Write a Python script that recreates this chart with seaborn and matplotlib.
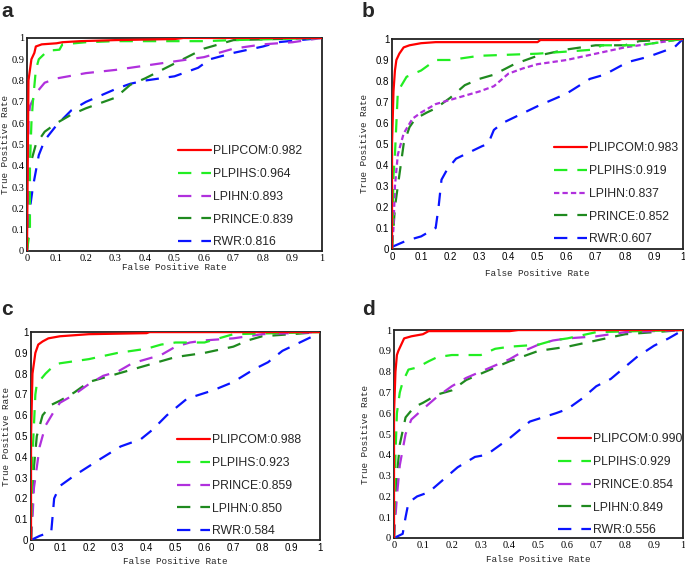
import matplotlib
matplotlib.use("Agg")
import matplotlib.pyplot as plt
import seaborn as sns

# ---- data (FPR / TPR pairs) ----
# panel a
A_PLIPCOM_X = [0, 0.005, 0.01, 0.015, 0.025, 0.03, 0.05, 0.1, 0.12, 0.18, 0.3, 0.5, 0.53, 1]
A_PLIPCOM_Y = [0, 0.8, 0.85, 0.9, 0.93, 0.96, 0.97, 0.975, 0.98, 0.985, 0.99, 0.995, 1, 1]
A_PLPIHS_X = [0, 0.01, 0.01, 0.015, 0.02, 0.03, 0.04, 0.07, 0.11, 0.12, 0.2, 0.3, 0.6, 0.7, 1]
A_PLPIHS_Y = [0, 0.1, 0.4, 0.6, 0.7, 0.85, 0.9, 0.94, 0.945, 0.97, 0.98, 0.985, 0.985, 0.99, 1]
A_LPIHN_X = [0, 0.005, 0.005, 0.01, 0.03, 0.06, 0.1, 0.2, 0.3, 0.4, 0.5, 0.6, 0.65, 0.7, 0.8, 0.9, 1]
A_LPIHN_Y = [0, 0.3, 0.6, 0.68, 0.74, 0.79, 0.81, 0.835, 0.85, 0.87, 0.89, 0.91, 0.93, 0.95, 0.97, 0.98, 1]
A_PRINCE_X = [0, 0.005, 0.01, 0.03, 0.06, 0.1, 0.15, 0.2, 0.3, 0.35, 0.4, 0.5, 0.6, 0.7, 1]
A_PRINCE_Y = [0, 0.2, 0.4, 0.5, 0.56, 0.6, 0.64, 0.67, 0.72, 0.78, 0.81, 0.88, 0.95, 0.99, 1]
A_RWR_X = [0, 0.01, 0.02, 0.04, 0.06, 0.1, 0.15, 0.2, 0.25, 0.3, 0.35, 0.4, 0.5, 0.58, 0.62, 0.7, 0.8, 0.85, 1]
A_RWR_Y = [0, 0.2, 0.3, 0.45, 0.52, 0.59, 0.66, 0.7, 0.73, 0.76, 0.785, 0.8, 0.82, 0.86, 0.9, 0.93, 0.96, 0.98, 1]

# panel b
B_PLIPCOM_X = [0, 0, 0.005, 0.01, 0.015, 0.025, 0.04, 0.06, 0.1, 0.15, 0.5, 0.51, 0.78, 0.79, 1]
B_PLIPCOM_Y = [0, 0.5, 0.75, 0.85, 0.9, 0.93, 0.96, 0.97, 0.98, 0.985, 0.985, 0.995, 0.995, 1, 1]
B_PLPIHS_X = [0, 0.005, 0.01, 0.015, 0.02, 0.05, 0.1, 0.15, 0.2, 0.3, 0.5, 0.6, 0.7, 0.72, 0.85, 0.9, 1]
B_PLPIHS_Y = [0, 0.35, 0.45, 0.6, 0.75, 0.82, 0.85, 0.9, 0.9, 0.92, 0.93, 0.94, 0.95, 0.97, 0.97, 0.98, 1]
B_LPIHN_X = [0, 0.005, 0.01, 0.02, 0.04, 0.07, 0.1, 0.15, 0.2, 0.3, 0.35, 0.4, 0.45, 0.5, 0.6, 0.7, 0.8, 0.9, 1]
B_LPIHN_Y = [0, 0.1, 0.3, 0.45, 0.55, 0.62, 0.65, 0.69, 0.71, 0.75, 0.775, 0.835, 0.86, 0.88, 0.9, 0.93, 0.96, 0.98, 1]
B_PRINCE_X = [0, 0.01, 0.02, 0.04, 0.06, 0.08, 0.12, 0.15, 0.2, 0.25, 0.3, 0.35, 0.42, 0.5, 0.6, 0.7, 0.8, 0.85, 1]
B_PRINCE_Y = [0, 0.2, 0.3, 0.5, 0.58, 0.62, 0.65, 0.67, 0.72, 0.78, 0.81, 0.83, 0.88, 0.92, 0.95, 0.97, 0.97, 0.99, 1]
B_RWR_X = [0, 0.05, 0.1, 0.15, 0.16, 0.17, 0.19, 0.22, 0.31, 0.33, 0.35, 0.38, 0.5, 0.6, 0.68, 0.73, 0.81, 0.88, 0.97, 1]
B_RWR_Y = [0.01, 0.04, 0.06, 0.1, 0.2, 0.33, 0.38, 0.43, 0.49, 0.5, 0.567, 0.6, 0.68, 0.74, 0.81, 0.83, 0.89, 0.915, 0.96, 1]

# panel c
C_PLIPCOM_X = [0, 0, 0.005, 0.01, 0.015, 0.025, 0.04, 0.06, 0.1, 0.2, 0.4, 0.41, 1]
C_PLIPCOM_Y = [0, 0.5, 0.8, 0.85, 0.9, 0.94, 0.955, 0.97, 0.98, 0.99, 0.995, 1, 1]
C_PLPIHS_X = [0, 0.005, 0.01, 0.015, 0.02, 0.05, 0.08, 0.1, 0.2, 0.3, 0.4, 0.45, 0.5, 0.6, 0.65, 0.7, 1]
C_PLPIHS_Y = [0, 0.4, 0.55, 0.7, 0.75, 0.8, 0.84, 0.85, 0.87, 0.9, 0.92, 0.94, 0.95, 0.95, 0.97, 0.99, 1]
C_PRINCE_X = [0, 0.005, 0.01, 0.03, 0.05, 0.08, 0.1, 0.15, 0.2, 0.25, 0.3, 0.35, 0.4, 0.45, 0.5, 0.55, 0.6, 0.7, 0.8, 1]
C_PRINCE_Y = [0, 0.1, 0.25, 0.45, 0.55, 0.62, 0.66, 0.7, 0.75, 0.79, 0.81, 0.85, 0.87, 0.89, 0.93, 0.95, 0.96, 0.97, 0.99, 1]
C_LPIHN_X = [0, 0.005, 0.01, 0.02, 0.04, 0.07, 0.1, 0.15, 0.2, 0.25, 0.3, 0.4, 0.5, 0.6, 0.7, 0.75, 0.8, 0.9, 1]
C_LPIHN_Y = [0, 0.2, 0.35, 0.5, 0.6, 0.65, 0.67, 0.71, 0.76, 0.78, 0.8, 0.84, 0.88, 0.9, 0.93, 0.96, 0.98, 0.99, 1]
C_RWR_X = [0, 0.03, 0.07, 0.08, 0.1, 0.15, 0.24, 0.31, 0.38, 0.42, 0.47, 0.54, 0.63, 0.7, 0.77, 0.82, 0.87, 0.93, 0.99, 1]
C_RWR_Y = [0, 0.02, 0.04, 0.2, 0.26, 0.31, 0.39, 0.45, 0.485, 0.53, 0.6, 0.68, 0.72, 0.76, 0.82, 0.855, 0.91, 0.95, 0.99, 1]

# panel d
D_PLIPCOM_X = [0, 0, 0.005, 0.01, 0.015, 0.025, 0.035, 0.06, 0.1, 0.12, 0.4, 0.43, 1]
D_PLIPCOM_Y = [0, 0.6, 0.8, 0.88, 0.9, 0.93, 0.96, 0.97, 0.98, 0.995, 0.995, 1, 1]
D_PLPIHS_X = [0, 0.005, 0.01, 0.02, 0.03, 0.05, 0.08, 0.12, 0.15, 0.2, 0.3, 0.35, 0.4, 0.5, 0.55, 0.6, 0.7, 1]
D_PLPIHS_Y = [0, 0.4, 0.6, 0.7, 0.75, 0.81, 0.82, 0.85, 0.87, 0.88, 0.88, 0.91, 0.92, 0.93, 0.95, 0.96, 0.99, 1]
D_PRINCE_X = [0, 0.005, 0.01, 0.02, 0.04, 0.06, 0.1, 0.15, 0.2, 0.25, 0.3, 0.35, 0.4, 0.45, 0.5, 0.55, 0.6, 0.7, 0.8, 1]
D_PRINCE_Y = [0, 0.1, 0.2, 0.35, 0.5, 0.57, 0.62, 0.68, 0.73, 0.77, 0.8, 0.83, 0.86, 0.9, 0.93, 0.95, 0.96, 0.97, 0.99, 1]
D_LPIHN_X = [0, 0.005, 0.01, 0.02, 0.04, 0.07, 0.1, 0.15, 0.2, 0.25, 0.3, 0.4, 0.5, 0.6, 0.7, 0.8, 0.9, 1]
D_LPIHN_Y = [0, 0.2, 0.3, 0.45, 0.58, 0.63, 0.65, 0.69, 0.71, 0.76, 0.79, 0.85, 0.9, 0.92, 0.95, 0.98, 0.99, 1]
D_RWR_X = [0, 0.03, 0.04, 0.05, 0.08, 0.12, 0.17, 0.22, 0.28, 0.32, 0.4, 0.47, 0.56, 0.6, 0.65, 0.7, 0.75, 0.84, 0.9, 0.95, 1]
D_RWR_Y = [0, 0.02, 0.1, 0.17, 0.2, 0.22, 0.28, 0.34, 0.39, 0.4, 0.48, 0.56, 0.6, 0.62, 0.67, 0.73, 0.765, 0.87, 0.925, 0.96, 1]

TICK_LABELS = ['0', '0.1', '0.2', '0.3', '0.4', '0.5', '0.6', '0.7', '0.8', '0.9', '1']
TICKS = [0, 0.1, 0.2, 0.3, 0.4, 0.5, 0.6, 0.7, 0.8, 0.9, 1.0]

RED = '#ff0000'
LGREEN = '#22ee22'
PURPLE = '#b030dd'
DGREEN = '#1f8a1f'
BLUE = '#0a14ff'
DASH = (0, (6, 4.5))
DOT = (0, (2.4, 1.4))

sns.set_theme(style='white')
plt.rcParams['font.family'] = ['Liberation Sans', 'DejaVu Sans']

fig = plt.figure(figsize=(6.85, 5.65), dpi=100)

panels = [
    # letter, axes rect, tick font, legend anchor, ylabel x, xlabel y, letter x/y, curves
    ('a', [0.0394, 0.5558, 0.4307, 0.377], 'Liberation Serif', (0.512, 0.496), -0.059, -0.056, (0.0015, 0.970), [
        (A_PLIPCOM_X, A_PLIPCOM_Y, 'PLIPCOM:0.982', RED, '-'),
        (A_PLPIHS_X, A_PLPIHS_Y, 'PLPIHS:0.964', LGREEN, DASH),
        (A_LPIHN_X, A_LPIHN_Y, 'LPIHN:0.893', PURPLE, DASH),
        (A_PRINCE_X, A_PRINCE_Y, 'PRINCE:0.839', DGREEN, DASH),
        (A_RWR_X, A_RWR_Y, 'RWR:0.816', BLUE, DASH)]),
    ('b', [0.5723, 0.5593, 0.4248, 0.3717], 'Liberation Sans', (0.557, 0.508), -0.079, -0.095, (0.528, 0.970), [
        (B_PLIPCOM_X, B_PLIPCOM_Y, 'PLIPCOM:0.983', RED, '-'),
        (B_PLPIHS_X, B_PLPIHS_Y, 'PLPIHS:0.919', LGREEN, DASH),
        (B_LPIHN_X, B_LPIHN_Y, 'LPIHN:0.837', PURPLE, DOT),
        (B_PRINCE_X, B_PRINCE_Y, 'PRINCE:0.852', DGREEN, DASH),
        (B_RWR_X, B_RWR_Y, 'RWR:0.607', BLUE, DASH)]),
    ('c', [0.0453, 0.0442, 0.4219, 0.368], 'Liberation Sans', (0.505, 0.508), -0.07, -0.082, (0.0015, 0.4425), [
        (C_PLIPCOM_X, C_PLIPCOM_Y, 'PLIPCOM:0.988', RED, '-'),
        (C_PLPIHS_X, C_PLPIHS_Y, 'PLPIHS:0.923', LGREEN, DASH),
        (C_PRINCE_X, C_PRINCE_Y, 'PRINCE:0.859', PURPLE, DASH),
        (C_LPIHN_X, C_LPIHN_Y, 'LPIHN:0.850', DGREEN, DASH),
        (C_RWR_X, C_RWR_Y, 'RWR:0.584', BLUE, DASH)]),
    ('d', [0.5752, 0.0478, 0.4219, 0.368], 'Liberation Serif', (0.567, 0.503), -0.083, -0.082, (0.528, 0.4425), [
        (D_PLIPCOM_X, D_PLIPCOM_Y, 'PLIPCOM:0.990', RED, '-'),
        (D_PLPIHS_X, D_PLPIHS_Y, 'PLPIHS:0.929', LGREEN, DASH),
        (D_PRINCE_X, D_PRINCE_Y, 'PRINCE:0.854', PURPLE, DASH),
        (D_LPIHN_X, D_LPIHN_Y, 'LPIHN:0.849', DGREEN, DASH),
        (D_RWR_X, D_RWR_Y, 'RWR:0.556', BLUE, DASH)]),
]

for letter, rect, tickfont, anchor, ylab_x, xlab_y, letter_xy, curves in panels:
    ax = fig.add_axes(rect)
    # draw back to front so the red curve sits on top
    for i, (xs, ys, lab, col, ls) in enumerate(curves):
        sns.lineplot(x=xs, y=ys, ax=ax, color=col, linestyle=ls, linewidth=1.6,
                     label=lab, estimator=None, sort=False, zorder=10 - i)
    ax.set_xlim(0, 1)
    ax.set_ylim(0, 1)
    ax.set_xticks(TICKS)
    ax.set_yticks(TICKS)
    tsize = 7.5 if tickfont == 'Liberation Serif' else 7
    ax.set_xticklabels(TICK_LABELS, family=tickfont, fontsize=tsize)
    ax.set_yticklabels(TICK_LABELS, family=tickfont, fontsize=tsize)
    ax.tick_params(direction='in', length=2.5, width=0.8, pad=2, colors='black')
    for sp in ax.spines.values():
        sp.set_color('#222222')
        sp.set_linewidth(1.3)
    ax.set_xlabel('False Positive Rate', family='Liberation Mono', fontsize=6.7)
    ax.set_ylabel('True Positive Rate', family='Liberation Mono', fontsize=6.7)
    ax.xaxis.set_label_coords(0.5, xlab_y)
    ax.yaxis.set_label_coords(ylab_x, 0.5)
    ax.legend(loc='upper left', bbox_to_anchor=anchor, frameon=False, fontsize=8.8,
              borderpad=0, borderaxespad=0, handlelength=2.7, handletextpad=0.15,
              labelspacing=0.88)
    # panel letter
    fig.text(letter_xy[0], letter_xy[1], letter, fontsize=15,
             fontweight='bold', ha='left', va='baseline')

fig.savefig('out.png', dpi=100)
